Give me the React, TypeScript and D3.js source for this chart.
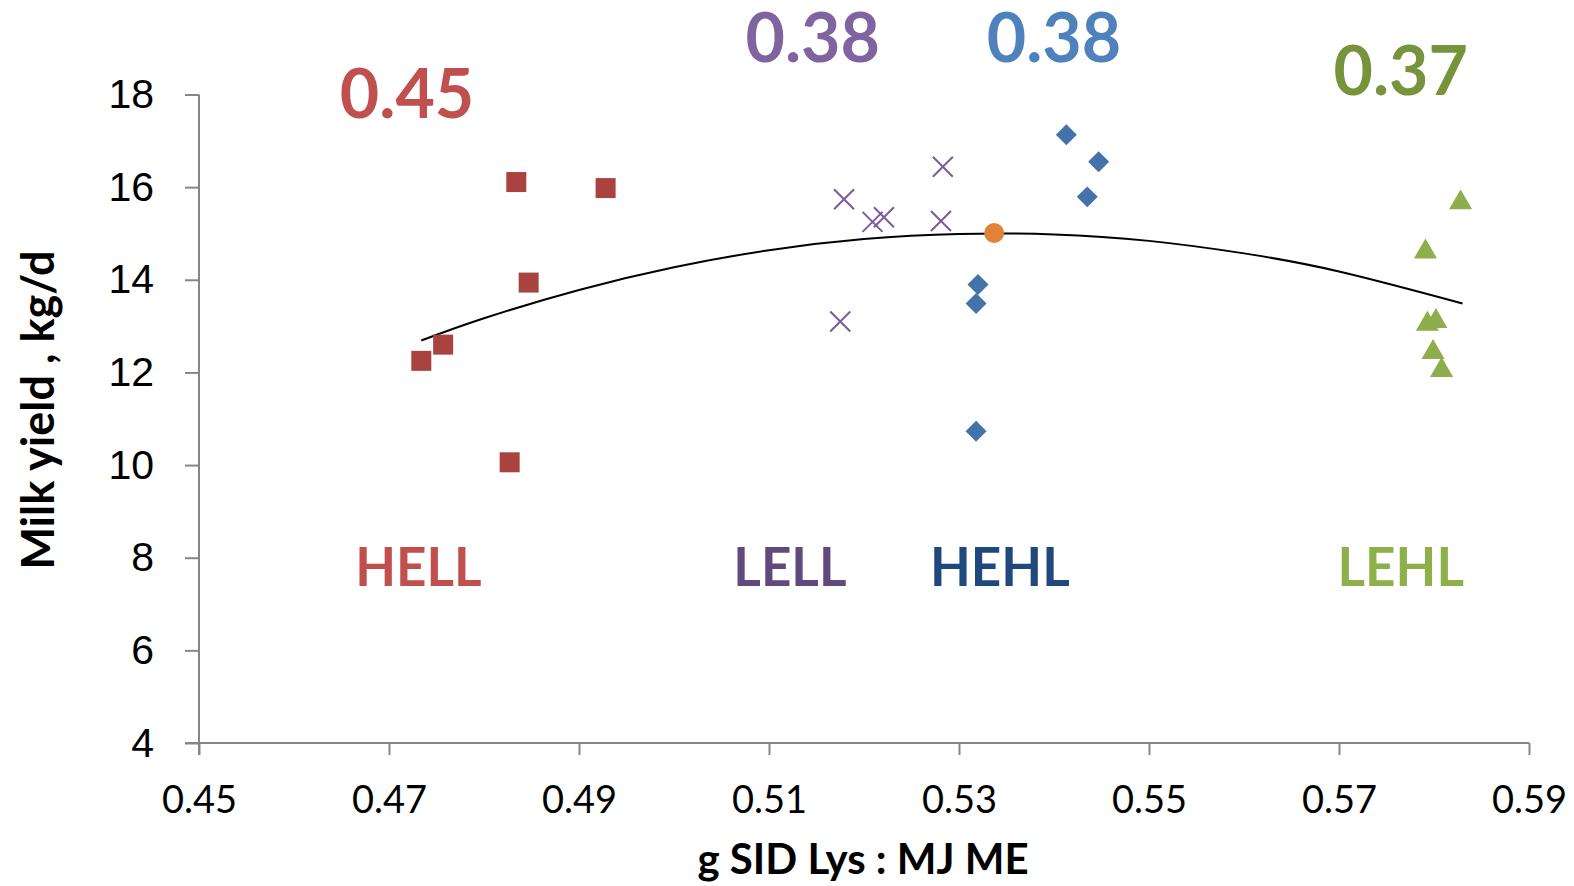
import * as React from 'react';
import * as d3 from 'd3';

// group HELL (squares)
const hellX = [0.4734, 0.4757, 0.4834, 0.4928, 0.4847, 0.4827];
const hellY = [12.25, 12.6, 16.11, 15.98, 13.94, 10.06];
// group LELL (crosses)
const lellX = [0.5179, 0.5209, 0.5221, 0.5283, 0.5281, 0.5175];
const lellY = [15.74, 15.25, 15.35, 16.44, 15.27, 13.1];
// group HEHL (diamonds)
const hehlX = [0.5413, 0.5447, 0.5435, 0.532, 0.5318, 0.5318];
const hehlY = [17.13, 16.55, 15.79, 13.9, 13.49, 10.73];
// group LEHL (triangles)
const lehlX = [0.5828, 0.5791, 0.5793, 0.5802, 0.5799, 0.5808];
const lehlY = [15.74, 14.68, 13.12, 13.18, 12.51, 12.12];
// optimum point (circle)
const optX = [0.5337];
const optY = [15.01];
// trend curve points
const trendX = [0.4734, 0.48, 0.49, 0.5, 0.51, 0.52, 0.53, 0.54, 0.55, 0.56, 0.57, 0.583];
const trendY = [12.69, 13.17, 13.78, 14.27, 14.64, 14.88, 14.99, 14.98, 14.84, 14.57, 14.18, 13.49];

const xTicks = [0.45, 0.47, 0.49, 0.51, 0.53, 0.55, 0.57, 0.59];
const yTicks = [4, 6, 8, 10, 12, 14, 16, 18];

const groupNames = ['HELL', 'LELL', 'HEHL', 'LEHL'];
const groupLabelX = [0.4731, 0.5122, 0.5343, 0.5765];
const groupValues = ['0.45', '0.38', '0.38', '0.37'];
const valueLabelX = [0.4719, 0.5146, 0.54, 0.5765];
const valueLabelY = [17.5, 18.7, 18.7, 17.98];

const valueColors = ['#C0504D', '#8064A2', '#4F81BD', '#77933C'];
const nameColors = ['#C0504D', '#604A7B', '#1F497D', '#8EB04A'];

export default function App() {
    const ref = React.useRef<SVGSVGElement>(null);

    React.useEffect(() => {
        const width = 1574;
        const height = 886;
        const svg = d3.select(ref.current);
        svg.selectAll('*').remove();
        svg.attr('width', width).attr('height', height);

        const x = d3.scaleLinear().domain([0.45, 0.59]).range([199, 1529]);
        const y = d3.scaleLinear().domain([4, 18]).range([743, 94.5]);

        const axisColor = '#868686';

        const xAxis = d3.axisBottom(x).tickValues(xTicks).tickSize(12).tickSizeOuter(0).tickPadding(31)
            .tickFormat(d3.format('.2f') as any);
        const gx = svg.append('g').attr('transform', 'translate(0,' + y(4) + ')').call(xAxis);
        gx.select('.domain').attr('stroke', axisColor).attr('stroke-width', 2).attr('d', 'M' + (x(0.45) - 14) + ',0H' + x(0.59));
        gx.selectAll('.tick line').attr('stroke', axisColor).attr('stroke-width', 2);
        gx.selectAll('.tick text').attr('fill', '#000').style('font-family', 'Lato, sans-serif').style('font-size', '38px');

        const yAxis = d3.axisLeft(y).tickValues(yTicks).tickSize(14).tickSizeOuter(0).tickPadding(31);
        const gy = svg.append('g').attr('transform', 'translate(' + x(0.45) + ',0)').call(yAxis);
        gy.select('.domain').attr('stroke', axisColor).attr('stroke-width', 2).attr('d', 'M0,' + y(18) + 'V' + (y(4) + 12));
        gy.selectAll('.tick line').attr('stroke', axisColor).attr('stroke-width', 2);
        gy.selectAll('.tick text').attr('fill', '#000').style('font-family', '"Liberation Sans", Arial, sans-serif').style('font-size', '41px');

        // axis titles
        svg.append('text')
            .attr('x', 863).attr('y', 874)
            .attr('text-anchor', 'middle')
            .style('font-family', 'Lato, sans-serif').style('font-weight', 'bold').style('font-size', '42px')
            .text('g SID Lys : MJ ME');
        svg.append('text')
            .attr('transform', 'translate(54,' + 410 + ') rotate(-90)')
            .attr('text-anchor', 'middle')
            .style('font-family', 'Lato, sans-serif').style('font-weight', 'bold').style('font-size', '45px')
            .text('Milk yield , kg/d');

        // trend curve
        const trend = trendX.map((v, i) => [v, trendY[i]] as [number, number]);
        const line = d3.line<[number, number]>().x(d => x(d[0])).y(d => y(d[1])).curve(d3.curveNatural);
        svg.append('path').attr('d', line(trend)).attr('fill', 'none').attr('stroke', '#000').attr('stroke-width', 2);

        const drawGroup = (xs: number[], ys: number[], type: any, size: number, fill: string, stroke: string | null, rot: number, dy: number) => {
            const sym = d3.symbol().type(type).size(size);
            svg.append('g').selectAll('path')
                .data(xs.map((v, i) => [v, ys[i]]))
                .enter()
                .append('path')
                .attr('d', sym as any)
                .attr('transform', d => 'translate(' + x(d[0]) + ',' + (y(d[1]) + dy) + ') rotate(' + rot + ')')
                .attr('fill', stroke ? 'none' : fill)
                .attr('stroke', stroke ? stroke : 'none')
                .attr('stroke-width', stroke ? 2 : 0);
        };

        const timesSym = (d3 as any).symbolTimes || (d3 as any).symbolX || d3.symbolCross;
        drawGroup(hellX, hellY, d3.symbolSquare, 400, '#AA423F', null, 0, 0);
        drawGroup(lellX, lellY, timesSym, 263, 'none', '#7A5C9C', 0, 0);
        drawGroup(hehlX, hehlY, d3.symbolSquare, 220, '#4472AA', null, 45, 0);
        // d3 triangles sit on their centroid; shift so the box centre is on the point
        drawGroup(lehlX, lehlY, d3.symbolTriangle, 230, '#8DAE4B', null, 0, 3.5);
        drawGroup(optX, optY, d3.symbolCircle, 314, '#E1823A', null, 0, 0);

        // correlation values
        svg.append('g').selectAll('text')
            .data(groupValues)
            .enter()
            .append('text')
            .attr('x', (d, i) => x(valueLabelX[i]))
            .attr('y', (d, i) => y(valueLabelY[i]))
            .attr('text-anchor', 'middle')
            .attr('fill', (d, i) => valueColors[i])
            .style('font-family', 'Lato, sans-serif').style('font-weight', 'bold').style('font-size', '68px')
            .text(d => d);

        // group names
        svg.append('g').selectAll('text')
            .data(groupNames)
            .enter()
            .append('text')
            .attr('x', (d, i) => x(groupLabelX[i]))
            .attr('y', y(7.38))
            .attr('text-anchor', 'middle')
            .attr('fill', (d, i) => nameColors[i])
            .style('font-family', 'Lato, sans-serif').style('font-weight', 'bold').style('font-size', '53px')
            .text(d => d);
    }, []);

    return (
        <svg ref={ref} style={{ position: 'absolute', left: 0, top: 0, background: '#fff' }} />
    );
}
